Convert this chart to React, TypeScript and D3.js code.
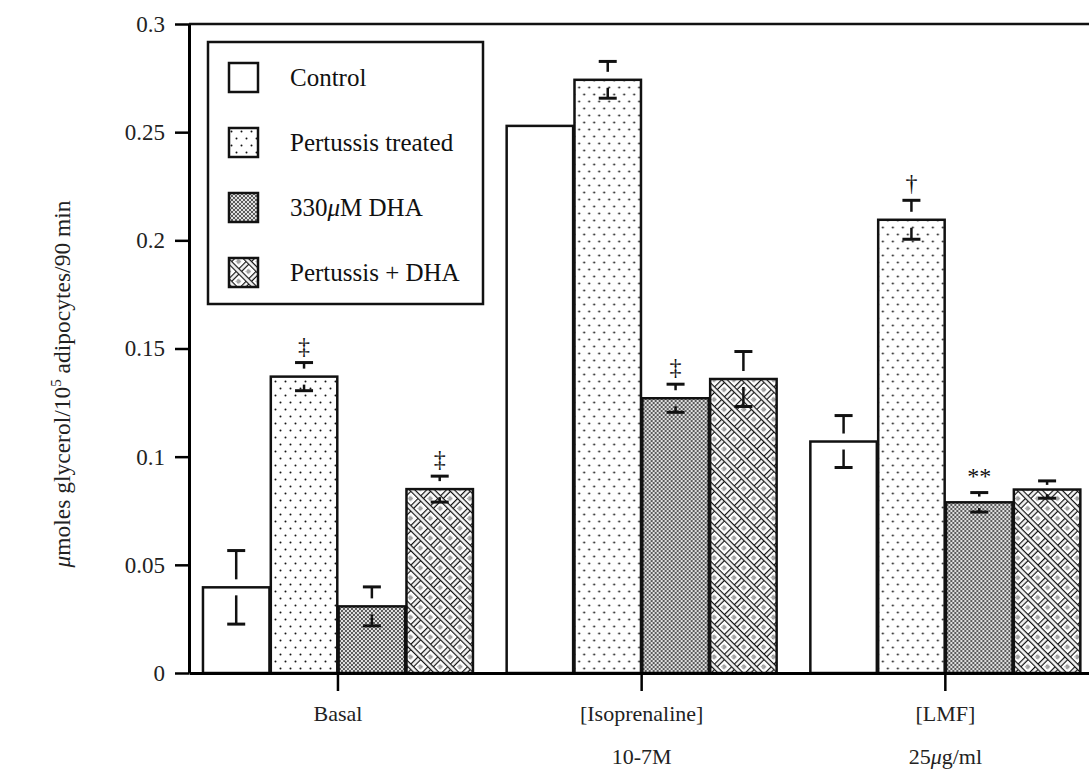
import { useEffect, useRef } from "react";
import * as d3 from "d3";

const W = 1089;
const H = 771;
const FONT = "'Liberation Serif', 'Times New Roman', serif";

const GROUPS = ["Basal", "[Isoprenaline]", "[LMF]"];
const GROUP_SUB = ["", "10-7M", "25μg/ml"];
const SERIES = ["Control", "Pertussis treated", "330μM DHA", "Pertussis + DHA"];
const FILLS = ["#fff", "url(#dots)", "url(#mesh)", "url(#weave)"];

// values per group (Basal, Isoprenaline, LMF)
const CONTROL = [0.0396, 0.2529, 0.107];
const PERTUSSIS = [0.137, 0.2742, 0.2095];
const DHA = [0.0308, 0.127, 0.0789];
const PERT_DHA = [0.085, 0.1359, 0.0848];

const CONTROL_ERR = [0.017, 0, 0.012];
const PERTUSSIS_ERR = [0.0065, 0.0085, 0.009];
const DHA_ERR = [0.009, 0.0065, 0.0045];
const PERT_DHA_ERR = [0.006, 0.0127, 0.004];

const CONTROL_MARK = ["", "", ""];
const PERTUSSIS_MARK = ["‡", "", "†"];
const DHA_MARK = ["", "‡", "**"];
const PERT_DHA_MARK = ["‡", "", ""];

const Y_TICKS = [0, 0.05, 0.1, 0.15, 0.2, 0.25, 0.3];

const VALUES = [CONTROL, PERTUSSIS, DHA, PERT_DHA];
const ERRORS = [CONTROL_ERR, PERTUSSIS_ERR, DHA_ERR, PERT_DHA_ERR];
const MARKS = [CONTROL_MARK, PERTUSSIS_MARK, DHA_MARK, PERT_DHA_MARK];

// split on μ so it can be set in italics
const withMu = (s: string) =>
  s.split(/(μ)/).map((part, i) =>
    part === "μ" ? <tspan key={i} fontStyle="italic">μ</tspan> : <tspan key={i}>{part}</tspan>
  );

export default function App() {
  const gx = useRef<SVGGElement>(null);
  const gy = useRef<SVGGElement>(null);

  const x = d3.scaleBand<string>().domain(GROUPS).range([189, 1094.3]).paddingInner(0.111).paddingOuter(0.046);
  const xs = d3.scaleBand<string>().domain(SERIES).range([0, x.bandwidth()]).paddingInner(0.02);
  const y = d3.scaleLinear().domain([0, 0.3]).range([673, 24]);

  useEffect(() => {
    const ay = d3.axisLeft(y)
      .tickValues(Y_TICKS)
      .tickSize(14)
      .tickSizeOuter(0)
      .tickPadding(10)
      .tickFormat((d) => (d === 0 ? "0" : String(d)));
    const gY = d3.select(gy.current!).call(ay);
    gY.attr("font-family", FONT).attr("font-size", 23);
    gY.selectAll("text").attr("fill", "#222");
    gY.selectAll("line").attr("stroke-width", 2.5);
    gY.select(".domain").attr("stroke-width", 3);

    const ax = d3.axisBottom(x).tickSize(18).tickSizeOuter(0).tickPadding(14);
    const gX = d3.select(gx.current!).call(ax);
    gX.attr("font-family", FONT).attr("font-size", 22);
    gX.selectAll("text").attr("fill", "#222");
    gX.selectAll("line").attr("stroke-width", 2.5);
    gX.select(".domain").attr("stroke-width", 3);
  }, []);

  const bw = xs.bandwidth();

  return (
    <svg width={W} height={H} style={{ position: "absolute", left: 0, top: 0, background: "#fff" }} fontFamily={FONT}>
      <defs>
        <pattern id="dots" width={10} height={14} patternUnits="userSpaceOnUse">
          <rect width={10} height={14} fill="#fff" />
          <circle cx={2.5} cy={3.5} r={1} fill="#111" />
          <circle cx={7.5} cy={10.5} r={1} fill="#111" />
        </pattern>
        <pattern id="mesh" width={4} height={4} patternUnits="userSpaceOnUse">
          <rect width={4} height={4} fill="#e0e0e0" />
          <circle cx={1} cy={1} r={0.95} fill="#222" />
          <circle cx={3} cy={3} r={0.95} fill="#222" />
        </pattern>
        <pattern id="weave" width={14} height={14} patternUnits="userSpaceOnUse" patternTransform="rotate(45)">
          <rect width={14} height={14} fill="#fff" />
          <line x1={0} x2={14} y1={0.6} y2={0.6} stroke="#111" strokeWidth={1.2} />
          <line x1={0} x2={14} y1={4.4} y2={4.4} stroke="#111" strokeWidth={1.2} />
          <line x1={0.6} x2={0.6} y1={5} y2={14} stroke="#111" strokeWidth={1.2} />
          <line x1={4.4} x2={4.4} y1={5} y2={14} stroke="#111" strokeWidth={1.2} />
          <rect x={7.5} y={8} width={3.5} height={3.5} fill="#a5a5a5" stroke="#666" strokeWidth={0.6} strokeDasharray="1 1" />
        </pattern>
      </defs>

      {/* frame top line */}
      <line x1={189} x2={W} y1={24} y2={24} stroke="#111" strokeWidth={2.5} />

      {/* bars */}
      {GROUPS.map((g, gi) => (
        <g key={g} transform={`translate(${x(g)},0)`}>
          {SERIES.map((s, si) => {
            const v = VALUES[si][gi];
            return (
              <rect
                key={s}
                x={xs(s)}
                y={y(v)}
                width={bw}
                height={y(0) - y(v)}
                fill={FILLS[si]}
                stroke="#111"
                strokeWidth={2.5}
              />
            );
          })}
          {SERIES.map((s, si) => {
            const v = VALUES[si][gi];
            const e = ERRORS[si][gi];
            const cx = (xs(s) ?? 0) + bw / 2;
            const yt = y(v);
            const yc = y(v + e);
            const yl = y(v - e);
            const mark = MARKS[si][gi];
            return (
              <g key={s + "e"}>
                {e > 0 && (
                  <>
                    <line x1={cx} x2={cx} y1={yc} y2={Math.max(yc + 4, yt - 8)} stroke="#111" strokeWidth={2.5} />
                    <line x1={cx} x2={cx} y1={yl} y2={Math.min(yl - 4, yt + 8)} stroke="#111" strokeWidth={2.5} />
                    <line x1={cx - 9} x2={cx + 9} y1={yc} y2={yc} stroke="#111" strokeWidth={3} />
                    <line x1={cx - 9} x2={cx + 9} y1={yl} y2={yl} stroke="#111" strokeWidth={3} />
                  </>
                )}
                {mark && (
                  <text x={cx} y={yc - 9} textAnchor="middle" fontSize={24} fill="#111">
                    {mark}
                  </text>
                )}
              </g>
            );
          })}
        </g>
      ))}

      {/* axes */}
      <g ref={gx} transform={`translate(0,${y(0)})`} />
      <g ref={gy} transform="translate(189,0)" />

      {GROUPS.map((g, gi) =>
        GROUP_SUB[gi] ? (
          <text key={g + "sub"} x={(x(g) ?? 0) + x.bandwidth() / 2} y={764} textAnchor="middle" fontSize={22} fill="#222">
            {withMu(GROUP_SUB[gi])}
          </text>
        ) : null
      )}

      {/* y title */}
      <text transform="translate(70,384) rotate(-90)" textAnchor="middle" fontSize={23.5} fill="#222">
        <tspan fontStyle="italic">μ</tspan>
        <tspan>moles glycerol/10</tspan>
        <tspan fontSize={15} dy={-9}>5</tspan>
        <tspan dy={9}>{"  adipocytes/90 min"}</tspan>
      </text>

      {/* legend */}
      <g>
        <rect x={208} y={42} width={275} height={262} fill="#fff" stroke="#111" strokeWidth={2.5} />
        {SERIES.map((s, si) => (
          <g key={s} transform={`translate(229,${63 + si * 65})`}>
            <rect width={29} height={29} fill={FILLS[si]} stroke="#111" strokeWidth={2.5} />
            <text x={61} y={23} fontSize={25} fill="#111">
              {withMu(s)}
            </text>
          </g>
        ))}
      </g>
    </svg>
  );
}
